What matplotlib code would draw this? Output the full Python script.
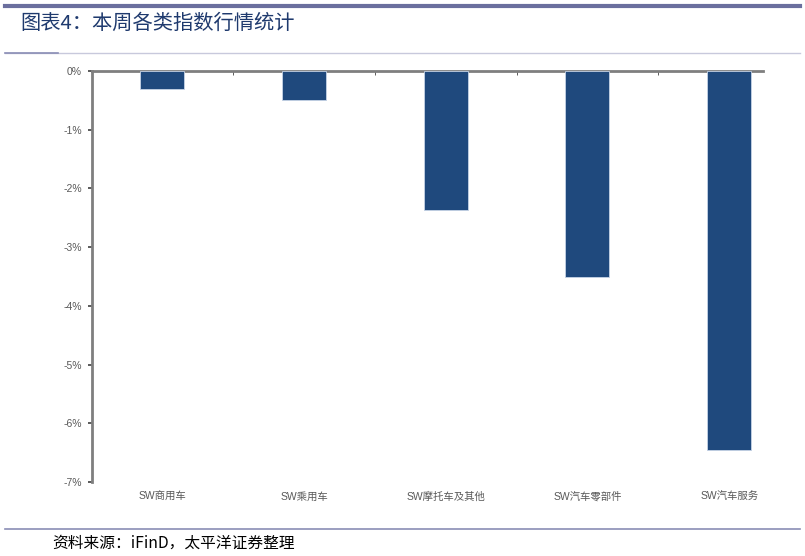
import matplotlib.pyplot as plt
from matplotlib.lines import Line2D

plt.rcParams['font.family'] = ['Liberation Sans', 'Noto Sans CJK SC']

categories = ['SW商用车', 'SW乘用车', 'SW摩托车及其他', 'SW汽车零部件', 'SW汽车服务']
changes = [-0.30, -0.50, -2.37, -3.51, -6.46]
yticks = [0, -1, -2, -3, -4, -5, -6, -7]
ytick_labels = ['%d%%' % v for v in yticks]

title = '图表4：本周各类指数行情统计'
source = '资料来源：iFinD，太平洋证券整理'

fig = plt.figure(figsize=(8.05, 5.56), dpi=100)
ax = fig.add_axes([91.5/805, 1-482/556, (800-91.5)/805, (482-71)/556])

x = list(range(len(categories)))
ax.bar(x, changes, width=0.31, color='#1f497d', edgecolor='#c5d3e6', linewidth=0.6, zorder=3)

ax.set_xlim(-0.5, len(categories) - 0.5)
ax.set_ylim(-7, 0)
ax.set_yticks(yticks)
ax.set_yticklabels(ytick_labels, fontsize=7.5, color='#595959')
ax.set_xticks(x)
ax.set_xticklabels(categories, fontsize=7.5, color='#595959')
ax.tick_params(axis='x', length=0, pad=7)
ax.tick_params(axis='y', length=3, width=1.2, color='#404040', pad=4)

# boundary ticks hanging from the zero line
ax.set_xticks([i + 0.5 for i in range(len(categories) - 1)], minor=True)
ax.tick_params(axis='x', which='minor', top=True, bottom=False, direction='in', length=3, color='#404040')

for s in ['right', 'bottom']:
    ax.spines[s].set_visible(False)
ax.spines['left'].set_color('#7f7f7f')
ax.spines['left'].set_linewidth(2)
ax.spines['top'].set_color('#7f7f7f')
ax.spines['top'].set_linewidth(2)
ax.spines['top'].set_bounds(-0.5, 4.24)

# page decoration
fig.add_artist(Line2D([5/805, 800/805], [1-6/556, 1-6/556], color='#6b6f9e', linewidth=3))
fig.add_artist(Line2D([5/805, 800/805], [1-53/556, 1-53/556], color='#c8c9dc', linewidth=1))
fig.add_artist(Line2D([5/805, 58/805], [1-53/556, 1-53/556], color='#8a8db5', linewidth=1.2))
fig.add_artist(Line2D([5/805, 800/805], [1-529/556, 1-529/556], color='#8a8db5', linewidth=1.2))

fig.text(20/805, 1-23/556, title, fontsize=14.6, color='#1f3a6e', va='center', ha='left',
         family=['Noto Sans CJK SC', 'DejaVu Sans'])
fig.text(52/805, 1-543/556, source, fontsize=11.3, color='#000000', va='center', ha='left',
         style='italic', family=['Noto Sans CJK SC', 'DejaVu Sans'])

plt.savefig('out.png', dpi=100)
